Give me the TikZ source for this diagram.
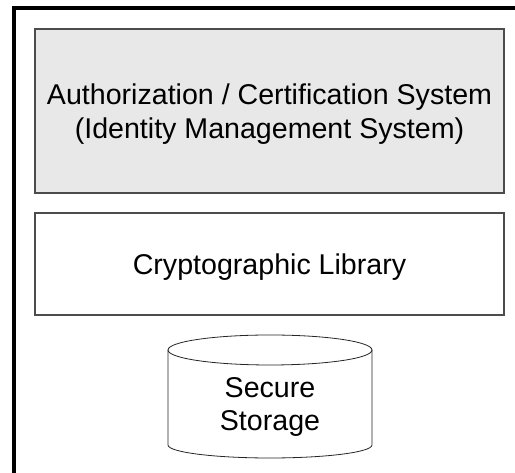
\documentclass[tikz,border=0pt]{standalone}
\usepackage{fontspec}
\setmainfont{Liberation Sans}
\begin{document}
\begin{tikzpicture}[x=1pt,y=1pt,
  lbl/.style={font=\fontsize{28.6}{33.5}\selectfont, align=center, text=black, inner sep=0pt},
  layerbox/.style={draw=black!70, line width=1.1pt, minimum width=469pt, inner sep=0pt}]
\useasboundingbox (0,0) rectangle (515,473);
\fill[white] (0,0) rectangle (515,473);
% outer frame (cropped)
\draw[line width=4pt, black] (14,0) -- (14,465) -- (515,465);
% layers
\node[layerbox, fill=black!9, minimum height=164pt] (auth) at (269.5,362) {};
\node[lbl] (authtext) at ([yshift=-3pt]auth.center)
  {Authorization / Certification System\\(Identity Management System)};
\node[layerbox, fill=white, minimum height=102pt] (crypto) at (269.5,209) {};
\node[lbl] (cryptotext) at ([yshift=-3pt]crypto.center) {Cryptographic Library};
% cylinder
\draw[line width=0.8pt, black!85] (168,123) -- (168,28)
  arc[start angle=180, end angle=360, x radius=102, y radius=13] -- (372,123);
\draw[line width=0.8pt, black!85] (270,123) ellipse[x radius=102, y radius=15];
\node[lbl] (storage) at (270,66) {Secure\\Storage};
\end{tikzpicture}
\end{document}
